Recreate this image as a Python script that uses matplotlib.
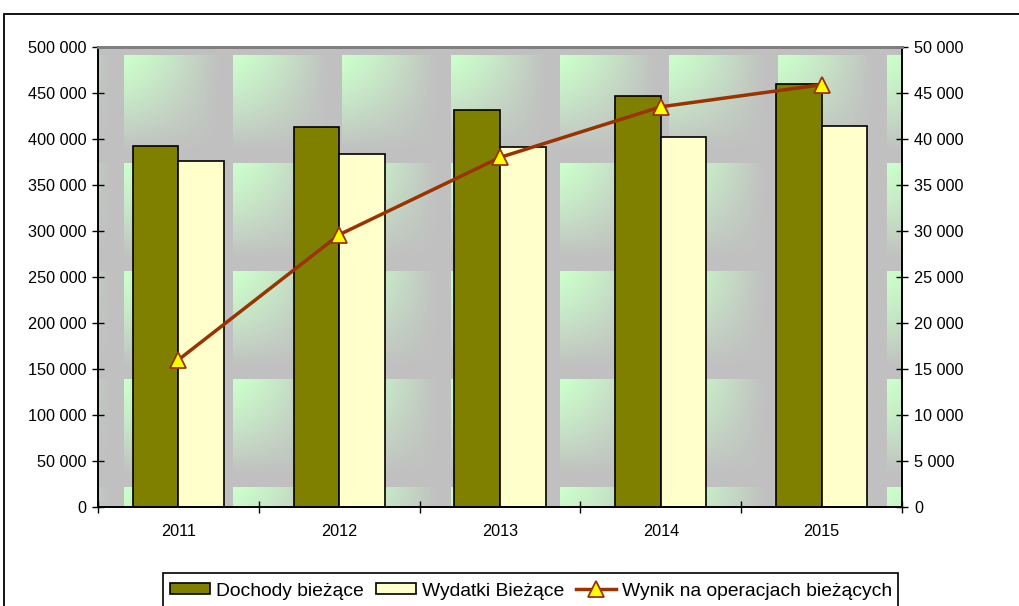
import numpy as np
import matplotlib
matplotlib.use("Agg")
import matplotlib.pyplot as plt
from matplotlib.patches import Rectangle
from matplotlib.ticker import FuncFormatter, MultipleLocator

plt.rcParams['font.family'] = ['Liberation Sans', 'DejaVu Sans']

# ---- data ----
years = ["2011", "2012", "2013", "2014", "2015"]
dochody = [392000, 413500, 431500, 446500, 459800]
wydatki = [376000, 384000, 391500, 402000, 414000]
wynik = [16000, 29600, 38000, 43500, 45900]
labels = ["Dochody bieżące", "Wydatki Bieżące", "Wynik na operacjach bieżących"]

W, H = 1019, 606
fig = plt.figure(figsize=(W / 100, H / 100), dpi=100)
fig.patch.set_facecolor("white")

L, R, T, B = 98, 902, 47, 507
ax = fig.add_axes([L / W, 1 - B / H, (R - L) / W, (B - T) / H])

# ---- tiled gradient background (texture fill) ----
pw, ph = R - L, B - T
xs = L + np.arange(pw) + 0.5
ys = T + np.arange(ph) + 0.5
u = np.mod(xs - 124, 109)
v = np.mod(ys - 55, 108)
fx = np.clip(u / 95.0, 0, 1)
fy = np.clip(v / 95.0, 0, 1)
w = (1 - fy ** 1.3)[:, None] * (1 - fx ** 1.3)[None, :]
green = np.array([204, 255, 204]) / 255.0
gray = np.array([192, 192, 192]) / 255.0
img = gray[None, None, :] + (green - gray)[None, None, :] * w[:, :, None]
ax.imshow(img, extent=(-0.5, 4.5, 0, 500000), aspect='auto', origin='upper',
          interpolation='nearest', zorder=0)

x = np.arange(len(years))
bw = 0.283
b1 = ax.bar(x - bw / 2, dochody, bw, color="#808000", edgecolor="black", linewidth=1.2, zorder=2)
b2 = ax.bar(x + bw / 2, wydatki, bw, color="#ffffcc", edgecolor="black", linewidth=1.2, zorder=2)

ax.set_xlim(-0.5, 4.5)
ax.set_ylim(0, 500000)
ax.yaxis.set_major_locator(MultipleLocator(50000))
fmt = FuncFormatter(lambda val, pos: f"{int(val):,}".replace(",", " "))
ax.yaxis.set_major_formatter(fmt)
ax.set_xticks(x)
ax.set_xticklabels(years)
ax.set_xticks(np.arange(-0.5, 5.0, 1.0), minor=True)
ax.tick_params(axis='x', which='major', length=0, pad=12, labelsize=11.7)
ax.tick_params(axis='x', which='minor', direction='inout', length=8, width=1)
ax.tick_params(axis='y', direction='inout', length=8, width=1, pad=4.3, labelsize=11.7)

ax2 = ax.twinx()
ax2.set_ylim(0, 50000)
ax2.yaxis.set_major_locator(MultipleLocator(5000))
ax2.yaxis.set_major_formatter(fmt)
ax2.tick_params(axis='y', direction='inout', length=8, width=1, pad=5, labelsize=11.7)
ln, = ax2.plot(x, wynik, color="#993300", linewidth=2.5, marker="^", markersize=11.5,
               markerfacecolor="#ffff00", markeredgecolor="#993300", markeredgewidth=1.3, zorder=3)

for a in (ax, ax2):
    a.spines['top'].set_color("#808080")
    a.spines['top'].set_linewidth(2)
    a.spines['left'].set_linewidth(1.2)
    a.spines['right'].set_linewidth(1.2)
    a.spines['bottom'].set_linewidth(1.2)
    for s in ('left', 'right', 'bottom'):
        a.spines[s].set_color("black")

# ---- outer chart border (cropped) ----
fig.add_artist(Rectangle((4 / W, -0.1), 1.2, 1.1 - 14 / H, transform=fig.transFigure,
                         fill=False, edgecolor="black", linewidth=1.3))
# ---- legend frame (cropped at bottom) ----
fig.add_artist(Rectangle((163 / W, -0.1), (898 - 163) / W, 0.1 + 1 - 573 / H,
                         transform=fig.transFigure, fill=False, edgecolor="black", linewidth=1.2))

fs = 13.9
fspx = fs * 100 / 72
leg = fig.legend([b1, b2, ln], labels, ncol=3, loc='center left',
                 bbox_to_anchor=(170 / W, 1 - 591 / H), frameon=False, fontsize=fs,
                 borderpad=0, handlelength=40 / fspx, handleheight=0.55,
                 handletextpad=6.5 / fspx, columnspacing=11.5 / fspx, borderaxespad=0)

fig.savefig("out.png", dpi=100)
